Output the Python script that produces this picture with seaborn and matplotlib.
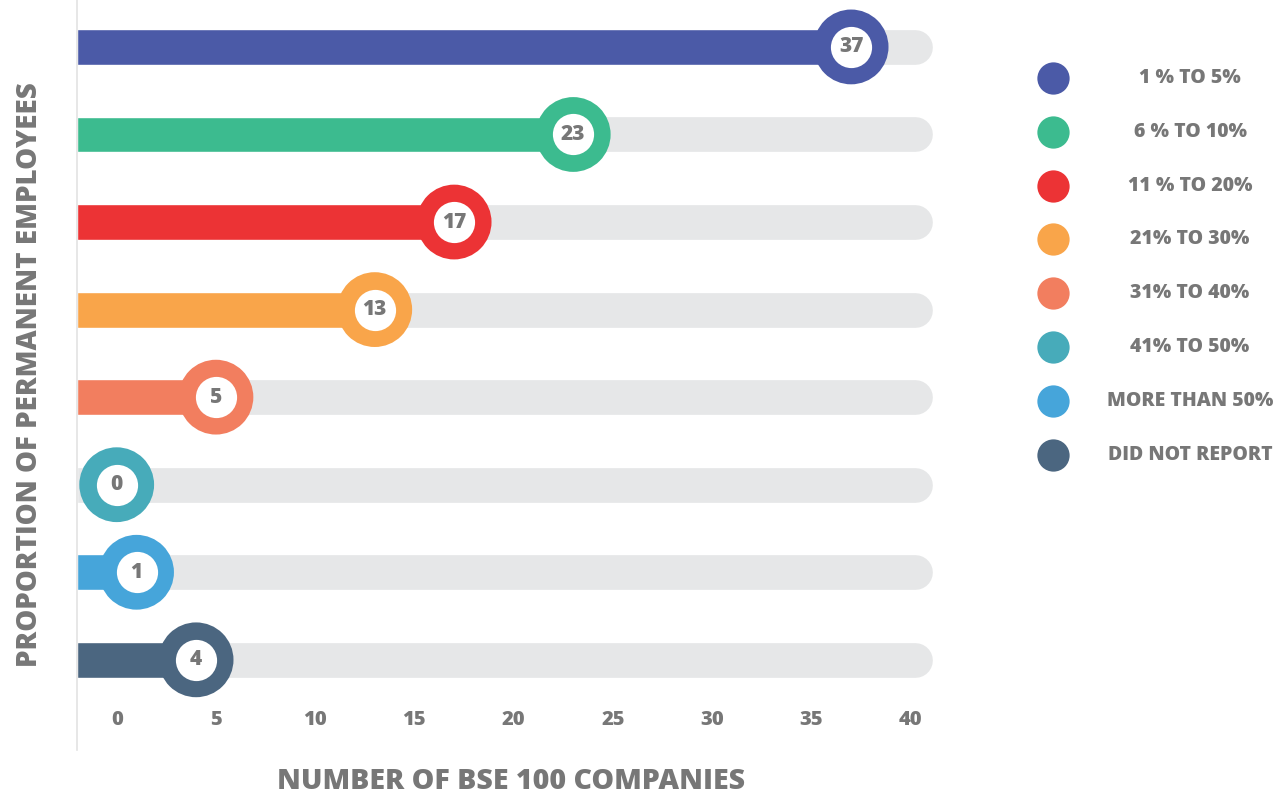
import matplotlib
matplotlib.use("Agg")
import matplotlib.pyplot as plt
import seaborn as sns
import pandas as pd

# data
categories = ["1 % TO 5%", "6 % TO 10%", "11 % TO 20%", "21% TO 30%",
              "31% TO 40%", "41% TO 50%", "MORE THAN 50%", "DID NOT REPORT"]
companies = [37, 23, 17, 13, 5, 0, 1, 4]
colors = ["#4B5AA7", "#3CBB8F", "#EC3335", "#F9A54A",
          "#F27E5F", "#47ABBA", "#46A5DA", "#4B6680"]
x_ticks = [0, 5, 10, 15, 20, 25, 30, 35, 40]

TEXT = "#777777"
TRACK = "#E6E7E8"
WEIGHT = "heavy"

sns.set_style("white")
plt.rcParams["font.family"] = ["Open Sans", "DejaVu Sans"]
plt.rcParams["font.weight"] = WEIGHT

df = pd.DataFrame({"category": categories, "value": companies,
                   "row": range(len(categories))})
palette = dict(zip(categories, colors))

fig = plt.figure(figsize=(12.86, 7.95), dpi=100)
W, H = 1286, 795
ax = fig.add_axes([77 / W, 45 / H, 867.4 / W, 750 / H])

x_min, x_max = -2, 41.7
track_end = 40.2

# grey rounded track behind every row
tracks = ax.hlines(df["row"], x_min, track_end, color=TRACK, lw=25, zorder=1)
tracks.set_capstyle("round")

# coloured bar from the left edge up to the value (none for zero)
bar_len = [(v - x_min) if v > 0 else 0 for v in companies]
ax.barh(df["row"], bar_len, left=x_min, height=0.41, color=colors, zorder=2)

# ring marker with the value inside
sns.scatterplot(data=df, x="value", y="row", hue="category", palette=palette,
                s=2900, linewidth=0, legend=False, ax=ax, zorder=3)
ax.scatter(df["value"], df["row"], s=880, color="white", linewidth=0, zorder=4)
for _, r in df.iterrows():
    ax.text(r["value"], r["row"], str(r["value"]), ha="center", va="center",
            fontsize=15, fontweight=WEIGHT, color=TEXT, zorder=5)

ax.set_xlim(x_min, x_max)
ax.set_ylim(8.03, -0.536)
ax.set_xticks(x_ticks)
ax.set_yticks([])
ax.tick_params(axis="x", length=0, pad=-29, labelsize=14.5, labelcolor=TEXT)
for lbl in ax.get_xticklabels():
    lbl.set_fontweight(WEIGHT)
for s in ["top", "right", "bottom"]:
    ax.spines[s].set_visible(False)
ax.spines["left"].set_color("#E3E3E3")
ax.spines["left"].set_linewidth(1.2)

ax.set_xlabel("NUMBER OF BSE 100 COMPANIES", fontsize=20.5, fontweight=WEIGHT,
              color=TEXT, labelpad=12)
ax.set_ylabel("PROPORTION OF PERMANENT EMPLOYEES", fontsize=20,
              fontweight=WEIGHT, color=TEXT, labelpad=24)

# legend drawn in its own pixel-coordinate axes
lax = fig.add_axes([1020 / W, 0, 266 / W, 1])
lax.set_xlim(1020, 1286)
lax.set_ylim(H, 0)
lax.axis("off")
for i, (cat, col) in enumerate(zip(categories, colors)):
    y = 78 + 53.8 * i
    lax.scatter(1053, y, s=540, color=col, linewidth=0)
    lax.text(1190, y, cat, ha="center", va="center", fontsize=14,
             fontweight=WEIGHT, color=TEXT)

fig.savefig("out.png", dpi=100)
